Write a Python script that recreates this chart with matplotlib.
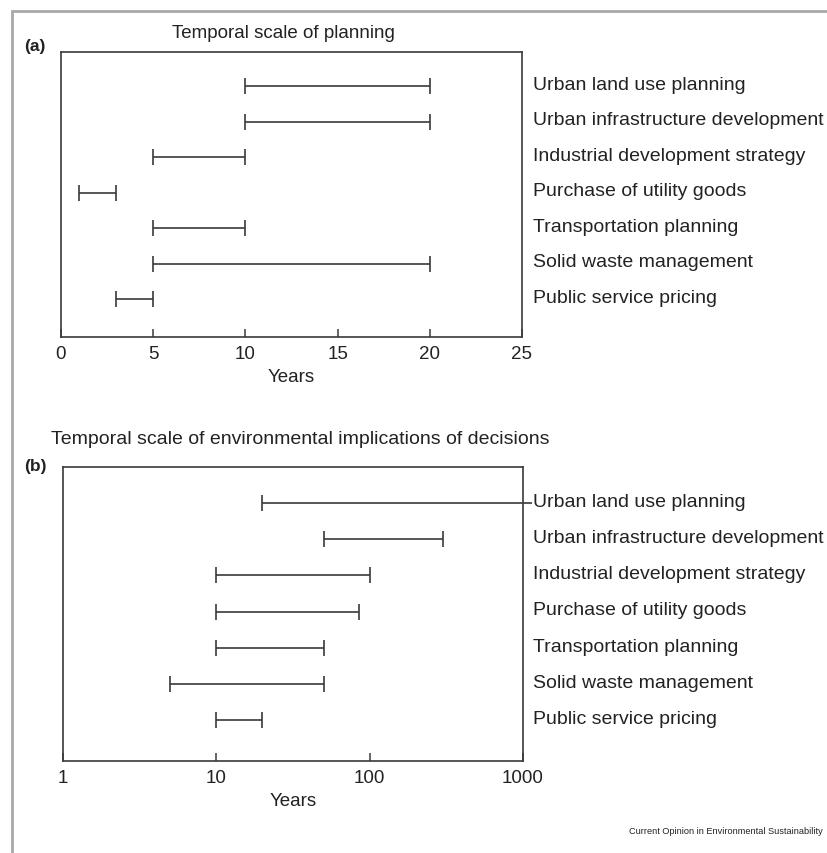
import matplotlib
matplotlib.use("Agg")
import matplotlib.pyplot as plt
from matplotlib.transforms import blended_transform_factory
from matplotlib.patches import Rectangle

categories = ["Urban land use planning", "Urban infrastructure development",
              "Industrial development strategy", "Purchase of utility goods",
              "Transportation planning", "Solid waste management",
              "Public service pricing"]

# Panel (a): temporal scale of planning (years)
plan_start = [10, 10, 5, 1, 5, 5, 3]
plan_end = [20, 20, 10, 3, 10, 20, 5]

# Panel (b): temporal scale of environmental implications (years, log)
env_start = [20, 50, 10, 10, 10, 5, 10]
env_end = [1150, 300, 100, 85, 50, 50, 20]
env_open_end = [True, False, False, False, False, False, False]

xticks_a = [0, 5, 10, 15, 20, 25]
xticks_b = [1, 10, 100, 1000]
xticklabels_b = ["1", "10", "100", "1000"]

plt.rcParams['font.family'] = ['Liberation Sans', 'DejaVu Sans']
ink = "#3a3a3a"
txt = "#222222"
fs = 14.0
fs_tick = 13.5

fig = plt.figure(figsize=(8.28, 8.54), dpi=100)
W, H = 828, 854

# outer frame
fig.patches.append(Rectangle((12 / W, -0.1), 1.2, 1 - 12 / H + 0.1,
                             transform=fig.transFigure, fill=False,
                             edgecolor="#a8a8a8", linewidth=2.0))

ax_a = fig.add_axes([61 / W, 1 - 338 / H, (522 - 61) / W, (338 - 53) / H])
ax_b = fig.add_axes([63 / W, 1 - 762 / H, (523 - 63) / W, (762 - 468) / H])

n = len(categories)
rows = [n - i for i in range(n)]

def style(ax):
    for s in ax.spines.values():
        s.set_color(ink)
        s.set_linewidth(1.2)
    ax.set_yticks([])
    ax.tick_params(axis='x', direction='in', length=6, width=1.1,
                   color=ink, labelsize=fs_tick, pad=6, labelcolor=txt)
    ax.set_xlabel("Years", fontsize=fs_tick, color=txt, labelpad=4)

# panel a
for y, s, e in zip(rows, plan_start, plan_end):
    ax_a.hlines(y, s, e, color=ink, linewidth=1.2)
    ax_a.plot([s, e], [y, y], linestyle='none', marker='|', markersize=11,
              markeredgewidth=1.2, color=ink)
ax_a.set_xlim(0, 25)
ax_a.set_ylim(-0.07, 7.96)
ax_a.set_xticks(xticks_a)
style(ax_a)

# panel b
for y, s, e, op in zip(rows, env_start, env_end, env_open_end):
    ax_b.hlines(y, s, e, color=ink, linewidth=1.2, clip_on=False)
    pts = [s] if op else [s, e]
    ax_b.plot(pts, [y] * len(pts), linestyle='none', marker='|', markersize=11,
              markeredgewidth=1.2, color=ink)
ax_b.set_xscale('log')
ax_b.set_xlim(1, 1000)
ax_b.set_ylim(-0.13, 8.0)
ax_b.set_xticks(xticks_b)
ax_b.set_xticklabels(xticklabels_b)
ax_b.minorticks_off()
style(ax_b)

for ax in (ax_a, ax_b):
    tr = blended_transform_factory(fig.transFigure, ax.transData)
    for y, c in zip(rows, categories):
        ax.text(533 / W, y + 0.05, c, transform=tr, ha='left', va='center',
                fontsize=fs, color=txt)

fig.text(283 / W, 1 - 33 / H, "Temporal scale of planning", ha='center',
         va='center', fontsize=13.5, color=txt)
fig.text(300 / W, 1 - 440 / H,
         "Temporal scale of environmental implications of decisions",
         ha='center', va='center', fontsize=14, color=txt)
fig.text(24 / W, 1 - 47 / H, "(a)", ha='left', va='center', fontsize=12.5,
         fontweight='bold', color=txt)
fig.text(24 / W, 1 - 466 / H, "(b)", ha='left', va='center', fontsize=12.5,
         fontweight='bold', color=txt)
fig.text(823 / W, 1 - 832 / H, "Current Opinion in Environmental Sustainability",
         ha='right', va='center', fontsize=6.6, color=txt)

fig.savefig("out.png", dpi=100)
